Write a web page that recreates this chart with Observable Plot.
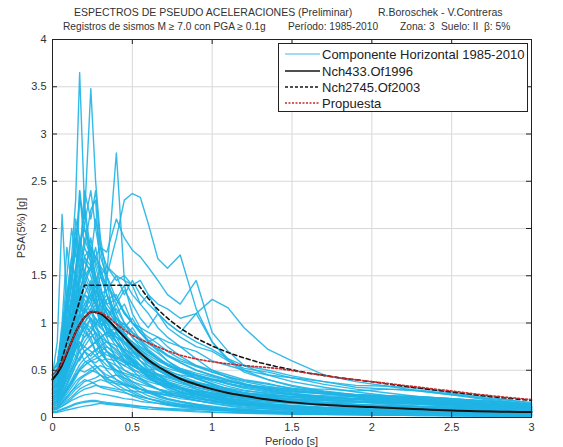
<!DOCTYPE html>
<html>
<head>
<meta charset="utf-8">
<script src="https://cdn.jsdelivr.net/npm/d3@7"></script>
<script src="https://cdn.jsdelivr.net/npm/@observablehq/plot@0.6"></script>
<style>
  html, body { margin: 0; padding: 0; background: #fff; }
  #chart { width: 563px; height: 447px; }
</style>
</head>
<body>
<div id="chart"></div>
<script>
// ---------- Text ----------
const titleLine1a = "ESPECTROS DE PSEUDO ACELERACIONES (Preliminar)";
const titleLine1b = "R.Boroschek - V.Contreras";
const titleLine2 = ["Registros de sismos M \u2265 7.0 con PGA \u2265 0.1g", "Período: 1985-2010", "Zona: 3", "Suelo: II", "\u03B2: 5%"];
const xLabel = "Período [s]";
const yLabel = "PSA(5%) [g]";
const legendLabels = ["Componente Horizontal 1985-2010", "Nch433.Of1996", "Nch2745.Of2003", "Propuesta"];

// ---------- Ticks ----------
const xTicks = [0, 0.5, 1, 1.5, 2, 2.5, 3];
const yTicks = [0, 0.5, 1, 1.5, 2, 2.5, 3, 3.5, 4];

// ---------- Record spectra (periods shared) ----------
const periods = [0, 0.03, 0.06, 0.09, 0.12, 0.145, 0.17, 0.2, 0.24, 0.27, 0.3, 0.34, 0.4, 0.45, 0.5, 0.55, 0.6, 0.66, 0.72, 0.8, 0.9, 1.0, 1.1, 1.2, 1.35, 1.5, 1.7, 1.9, 2.1, 2.3, 2.5, 2.75, 3.0];

const r01 = [0.50,0.58,0.85,1.25,1.70,2.30,3.65,2.25,1.75,1.45,1.15,0.95,0.80,0.68,0.58,0.50,0.43,0.37,0.32,0.27,0.22,0.18,0.15,0.13,0.11,0.09,0.08,0.07,0.06,0.05,0.045,0.04,0.035];
const r02 = [0.45,0.52,0.80,1.10,1.45,1.85,2.30,2.10,3.48,2.50,1.90,1.50,1.10,0.90,0.72,0.60,0.50,0.42,0.36,0.30,0.25,0.21,0.18,0.15,0.12,0.10,0.08,0.07,0.06,0.05,0.05,0.04,0.035];
const r03 = [0.30,0.35,0.50,0.70,0.90,1.10,1.30,1.55,1.80,1.70,1.60,1.50,2.80,1.45,1.30,1.20,1.10,0.95,0.85,0.75,0.62,0.50,0.42,0.36,0.29,0.24,0.20,0.17,0.14,0.12,0.11,0.09,0.08];
const r04 = [0.25,0.30,0.45,0.60,0.80,0.95,1.10,1.20,1.30,1.20,1.00,1.50,1.90,2.30,2.37,2.33,2.05,1.68,1.58,1.72,1.15,0.80,0.62,0.50,0.40,0.33,0.27,0.22,0.19,0.16,0.14,0.12,0.10];
const r05 = [0.20,0.25,0.35,0.50,0.65,0.80,0.90,1.00,1.10,1.20,1.30,1.35,1.50,1.45,1.40,1.45,1.30,1.20,1.15,1.05,1.10,1.25,1.16,0.95,0.72,0.60,0.45,0.38,0.33,0.28,0.24,0.20,0.16];
const r06 = [0.45,0.80,2.15,1.20,1.60,1.50,1.30,1.20,1.00,0.90,0.75,0.60,0.45,0.38,0.32,0.27,0.23,0.20,0.17,0.14,0.12,0.10,0.08,0.07,0.06,0.05,0.04,0.035,0.03,0.025,0.02,0.02,0.02];
const r07 = [0.40,0.50,0.90,1.50,2.00,1.70,2.40,2.00,1.80,1.50,1.30,1.00,0.80,0.65,0.55,0.50,0.42,0.36,0.30,0.25,0.20,0.17,0.14,0.12,0.10,0.08,0.07,0.06,0.05,0.045,0.04,0.035,0.03];
const r08 = [0.35,0.45,0.70,1.10,1.40,1.90,1.60,2.40,2.10,2.40,1.80,1.40,1.00,0.85,0.70,0.60,0.52,0.45,0.38,0.30,0.25,0.20,0.17,0.15,0.12,0.10,0.08,0.07,0.06,0.05,0.045,0.04,0.035];
const r09 = [0.50,0.55,1.00,1.80,1.40,2.10,1.90,1.50,1.60,1.30,1.00,0.85,0.60,0.50,0.45,0.40,0.35,0.30,0.25,0.22,0.18,0.15,0.13,0.11,0.09,0.08,0.06,0.05,0.045,0.04,0.035,0.03,0.03];
const r10 = [0.30,0.35,0.50,0.70,0.90,1.20,1.50,1.90,1.70,2.10,1.80,1.60,1.45,1.50,1.40,1.20,1.30,1.10,0.95,0.85,0.75,0.70,0.60,0.52,0.48,0.42,0.35,0.30,0.26,0.22,0.20,0.17,0.14];
const r11 = [0.25,0.28,0.40,0.55,0.70,0.85,1.00,1.15,1.25,1.20,1.10,1.25,1.30,1.10,1.00,0.95,0.90,0.85,0.80,0.75,0.70,0.60,0.55,0.50,0.45,0.42,0.38,0.34,0.33,0.31,0.26,0.21,0.15];
const r12 = [0.20,0.22,0.30,0.40,0.50,0.60,0.75,0.85,0.90,1.00,0.95,1.05,1.20,1.35,1.20,1.05,0.95,1.10,1.00,0.90,0.80,0.72,0.62,0.55,0.50,0.44,0.38,0.32,0.30,0.29,0.25,0.19,0.14];
const r13 = [0.38,0.42,0.70,1.00,1.30,1.60,1.90,1.70,1.50,1.30,1.10,0.90,0.75,0.60,0.50,0.42,0.36,0.30,0.26,0.22,0.18,0.15,0.12,0.10,0.09,0.07,0.06,0.05,0.04,0.035,0.03,0.025,0.02];
const r14 = [0.30,0.33,0.55,0.80,1.10,1.00,1.40,1.70,1.60,1.80,1.50,1.30,1.00,0.85,0.75,0.70,0.60,0.50,0.45,0.38,0.30,0.25,0.20,0.17,0.14,0.12,0.10,0.08,0.07,0.06,0.05,0.045,0.04];
const r15 = [0.22,0.25,0.40,0.60,0.80,1.00,1.20,1.10,1.40,1.30,1.50,1.40,1.20,1.00,0.90,0.80,0.70,0.62,0.55,0.50,0.42,0.35,0.30,0.26,0.22,0.18,0.15,0.13,0.11,0.10,0.09,0.08,0.07];
const r16 = [0.45,0.50,0.80,1.20,1.00,1.50,1.30,1.10,1.20,1.00,0.85,0.70,0.55,0.45,0.38,0.33,0.28,0.24,0.20,0.17,0.14,0.11,0.09,0.08,0.06,0.05,0.04,0.035,0.03,0.025,0.02,0.02,0.015];
const r17 = [0.15,0.17,0.25,0.35,0.50,0.60,0.70,0.80,0.90,1.00,1.05,1.15,1.00,0.95,1.05,0.90,0.80,0.85,0.75,0.65,0.55,0.50,0.45,0.40,0.36,0.30,0.26,0.22,0.20,0.18,0.16,0.13,0.11];
const r18 = [0.33,0.36,0.60,0.90,1.20,1.45,1.30,1.55,1.40,1.20,1.00,0.95,0.80,0.70,0.60,0.50,0.42,0.36,0.32,0.27,0.22,0.18,0.15,0.13,0.11,0.09,0.07,0.06,0.05,0.045,0.04,0.035,0.03];
const r19 = [0.28,0.30,0.45,0.65,0.90,1.10,1.30,1.25,1.10,1.15,1.00,0.85,0.90,0.80,0.70,0.65,0.58,0.50,0.44,0.38,0.32,0.28,0.24,0.21,0.18,0.15,0.13,0.11,0.10,0.09,0.08,0.07,0.06];
const r20 = [0.50,0.55,0.90,1.30,1.70,1.40,1.80,2.20,1.60,1.40,1.20,1.30,1.00,0.80,0.65,0.55,0.45,0.40,0.35,0.30,0.25,0.20,0.17,0.15,0.12,0.10,0.08,0.07,0.06,0.05,0.045,0.04,0.035];
const r21 = [0.20,0.22,0.35,0.50,0.65,0.80,0.75,0.90,0.85,0.70,0.75,0.60,0.50,0.42,0.36,0.30,0.27,0.23,0.20,0.17,0.14,0.12,0.10,0.09,0.07,0.06,0.05,0.045,0.04,0.035,0.03,0.025,0.02];
const r22 = [0.12,0.13,0.20,0.28,0.35,0.42,0.50,0.55,0.60,0.58,0.62,0.55,0.50,0.45,0.42,0.38,0.34,0.30,0.27,0.24,0.20,0.18,0.16,0.14,0.12,0.10,0.09,0.08,0.07,0.06,0.055,0.05,0.045];
const r23 = [0.25,0.28,0.45,0.60,0.70,0.65,0.80,0.70,0.60,0.55,0.50,0.42,0.35,0.30,0.26,0.22,0.20,0.17,0.15,0.13,0.11,0.09,0.08,0.07,0.06,0.05,0.04,0.035,0.03,0.025,0.02,0.02,0.015];
const r24 = [0.10,0.11,0.15,0.20,0.25,0.30,0.33,0.38,0.40,0.42,0.45,0.40,0.38,0.35,0.33,0.30,0.28,0.26,0.24,0.22,0.20,0.18,0.16,0.15,0.13,0.12,0.10,0.09,0.08,0.075,0.07,0.06,0.055];
const r25 = [0.35,0.38,0.60,0.85,1.00,0.90,1.10,0.95,0.80,0.70,0.60,0.50,0.40,0.34,0.28,0.24,0.20,0.17,0.14,0.12,0.10,0.08,0.07,0.06,0.05,0.04,0.035,0.03,0.025,0.02,0.02,0.015,0.015];
const r26 = [0.18,0.20,0.30,0.42,0.55,0.65,0.60,0.70,0.75,0.80,0.70,0.75,0.68,0.60,0.55,0.50,0.46,0.42,0.38,0.34,0.30,0.26,0.23,0.20,0.18,0.16,0.14,0.12,0.11,0.10,0.09,0.08,0.07];
const r27 = [0.08,0.09,0.12,0.15,0.18,0.20,0.22,0.24,0.25,0.26,0.25,0.24,0.22,0.20,0.19,0.17,0.16,0.15,0.14,0.12,0.11,0.10,0.09,0.08,0.07,0.06,0.055,0.05,0.045,0.04,0.035,0.03,0.03];
const r28 = [0.30,0.32,0.50,0.70,0.60,0.80,0.70,0.60,0.55,0.50,0.45,0.38,0.32,0.27,0.23,0.20,0.17,0.15,0.13,0.11,0.09,0.08,0.07,0.06,0.05,0.04,0.035,0.03,0.025,0.02,0.02,0.015,0.015];
const r29 = [0.14,0.15,0.22,0.30,0.38,0.45,0.50,0.48,0.52,0.55,0.50,0.45,0.40,0.36,0.32,0.30,0.27,0.25,0.23,0.20,0.18,0.16,0.15,0.14,0.12,0.11,0.10,0.09,0.08,0.07,0.065,0.06,0.05];
const r30 = [0.40,0.45,0.75,1.00,1.25,1.10,1.00,0.90,1.05,0.85,0.70,0.60,0.48,0.40,0.34,0.30,0.26,0.22,0.19,0.16,0.13,0.11,0.09,0.08,0.07,0.06,0.05,0.04,0.035,0.03,0.025,0.02,0.02];
const r31 = [0.06,0.07,0.09,0.11,0.13,0.15,0.16,0.17,0.18,0.18,0.17,0.16,0.15,0.14,0.13,0.12,0.11,0.10,0.09,0.08,0.07,0.06,0.055,0.05,0.045,0.04,0.035,0.03,0.028,0.025,0.022,0.02,0.018];
const r32 = [0.22,0.24,0.36,0.50,0.62,0.72,0.85,0.95,1.05,0.95,0.90,0.80,0.72,0.65,0.58,0.52,0.46,0.40,0.35,0.30,0.25,0.21,0.18,0.16,0.14,0.12,0.10,0.09,0.08,0.07,0.06,0.05,0.045];
const r33 = [0.16,0.18,0.28,0.40,0.52,0.60,0.70,0.75,0.70,0.65,0.60,0.62,0.60,0.55,0.50,0.48,0.44,0.40,0.36,0.32,0.28,0.25,0.22,0.20,0.17,0.15,0.13,0.12,0.11,0.10,0.09,0.08,0.07];
const r34 = [0.10,0.11,0.16,0.22,0.28,0.32,0.36,0.40,0.38,0.35,0.32,0.30,0.28,0.26,0.24,0.22,0.20,0.18,0.16,0.14,0.12,0.10,0.09,0.08,0.07,0.06,0.05,0.045,0.04,0.035,0.03,0.028,0.025];
const r35 = [0.15,0.16,0.22,0.30,0.38,0.45,0.50,0.55,0.60,0.62,0.65,0.70,0.60,0.55,0.60,0.55,0.50,0.52,0.48,0.45,0.42,0.40,0.38,0.35,0.32,0.30,0.30,0.28,0.30,0.28,0.24,0.18,0.13];
const r36 = [0.30,0.33,0.55,0.80,1.05,1.30,1.15,1.40,1.25,1.10,1.20,1.00,0.85,0.70,0.60,0.52,0.45,0.40,0.35,0.30,0.26,0.22,0.19,0.16,0.14,0.12,0.10,0.09,0.08,0.07,0.06,0.05,0.045];
const r37 = [0.42,0.46,0.80,1.20,1.60,2.00,1.70,1.50,1.90,1.60,1.40,1.10,0.90,0.75,0.62,0.55,0.48,0.42,0.36,0.30,0.24,0.20,0.17,0.15,0.12,0.10,0.08,0.07,0.06,0.05,0.045,0.04,0.035];
const r38 = [0.20,0.23,0.35,0.50,0.70,0.90,1.10,1.30,1.20,1.40,1.60,1.30,1.10,1.20,1.00,0.90,0.80,0.72,0.65,0.58,0.50,0.45,0.40,0.35,0.30,0.26,0.22,0.20,0.18,0.16,0.14,0.12,0.10];
const r39 = [0.25,0.27,0.40,0.55,0.70,0.85,0.95,1.00,0.95,0.90,0.85,0.90,0.95,1.00,0.85,0.75,0.70,0.62,0.55,0.50,0.45,0.40,0.36,0.32,0.28,0.25,0.22,0.20,0.18,0.16,0.15,0.13,0.11];
const r40 = [0.12,0.13,0.18,0.25,0.32,0.38,0.42,0.45,0.50,0.48,0.45,0.42,0.45,0.42,0.38,0.35,0.33,0.30,0.28,0.26,0.24,0.22,0.20,0.18,0.16,0.15,0.14,0.13,0.12,0.11,0.10,0.09,0.08];
const r41 = [0.50,0.55,0.90,1.30,1.00,1.20,2.40,1.80,2.20,2.30,1.50,1.30,1.05,0.90,0.75,0.65,0.55,0.45,0.38,0.32,0.26,0.22,0.18,0.15,0.13,0.11,0.09,0.08,0.07,0.06,0.05,0.045,0.04];
const r42 = [0.38,0.42,0.65,0.95,1.25,1.55,1.80,2.05,2.40,2.00,1.70,1.50,1.25,1.40,1.10,0.95,0.80,0.70,0.60,0.50,0.42,0.36,0.30,0.26,0.22,0.18,0.15,0.13,0.11,0.10,0.09,0.08,0.07];
const r43 = [0.28,0.30,0.45,0.65,0.85,1.05,1.25,1.45,1.60,1.70,1.80,1.75,2.10,1.90,1.77,1.70,1.59,1.45,1.30,1.20,1.45,0.90,0.70,0.55,0.45,0.38,0.32,0.27,0.23,0.20,0.18,0.15,0.12];
const r44 = [0.32,0.35,0.55,0.80,1.00,1.25,1.45,1.70,1.80,1.65,1.50,1.60,1.50,1.30,1.45,1.30,1.20,1.10,1.00,0.90,1.10,0.80,0.60,0.48,0.40,0.34,0.28,0.24,0.21,0.19,0.17,0.14,0.12];
const r45 = [0.05,0.055,0.065,0.08,0.09,0.10,0.11,0.12,0.13,0.14,0.15,0.14,0.13,0.12,0.11,0.10,0.09,0.085,0.08,0.07,0.06,0.055,0.05,0.045,0.04,0.035,0.03,0.028,0.025,0.022,0.02,0.018,0.016];
const r46 = [0.22,0.25,0.38,0.55,0.72,0.90,0.85,1.00,0.90,0.80,0.85,0.75,0.65,0.58,0.52,0.46,0.42,0.38,0.34,0.30,0.27,0.24,0.22,0.20,0.18,0.16,0.14,0.13,0.12,0.11,0.10,0.09,0.08];
const r47 = [0.18,0.20,0.30,0.45,0.60,0.72,0.80,0.75,0.85,0.90,0.80,0.70,0.62,0.66,0.60,0.55,0.48,0.44,0.40,0.36,0.32,0.28,0.26,0.24,0.22,0.20,0.18,0.17,0.16,0.15,0.14,0.12,0.10];
const r48 = [0.36,0.40,0.62,0.90,1.15,1.35,1.20,1.05,1.15,0.95,0.85,0.80,0.70,0.62,0.55,0.50,0.44,0.38,0.33,0.28,0.24,0.20,0.18,0.16,0.14,0.12,0.11,0.10,0.09,0.08,0.07,0.06,0.05];
const r49 = [0.14,0.15,0.24,0.34,0.45,0.55,0.62,0.70,0.65,0.72,0.68,0.60,0.55,0.50,0.46,0.44,0.40,0.37,0.34,0.31,0.28,0.26,0.24,0.22,0.20,0.19,0.18,0.17,0.16,0.15,0.13,0.11,0.09];
const r50 = [0.26,0.29,0.48,0.70,0.95,1.15,1.35,1.50,1.35,1.20,1.05,0.95,0.88,0.80,0.72,0.65,0.58,0.52,0.46,0.40,0.35,0.30,0.26,0.23,0.20,0.17,0.15,0.13,0.12,0.11,0.10,0.08,0.07];
const r51 = [0.30,0.33,0.50,0.70,0.90,1.05,1.20,1.30,1.25,1.35,1.20,1.10,1.15,1.00,0.90,0.82,0.75,0.68,0.60,0.52,0.45,0.40,0.35,0.31,0.27,0.24,0.21,0.19,0.17,0.15,0.14,0.12,0.10];
const r52 = [0.24,0.26,0.40,0.58,0.75,0.92,1.05,1.15,1.05,0.98,1.08,0.95,0.85,0.78,0.70,0.64,0.58,0.52,0.47,0.42,0.37,0.33,0.29,0.26,0.23,0.21,0.19,0.17,0.16,0.15,0.13,0.11,0.09];
const r53 = [0.18,0.20,0.32,0.46,0.60,0.75,0.90,0.85,0.95,1.05,0.95,0.88,0.80,0.72,0.66,0.60,0.55,0.50,0.45,0.40,0.36,0.32,0.29,0.26,0.24,0.22,0.20,0.19,0.18,0.17,0.15,0.12,0.10];
const r54 = [0.40,0.44,0.70,1.00,1.20,1.40,1.60,1.45,1.30,1.20,1.05,0.92,0.80,0.70,0.62,0.55,0.48,0.42,0.37,0.32,0.27,0.23,0.20,0.18,0.15,0.13,0.11,0.10,0.09,0.08,0.07,0.06,0.05];
const r55 = [0.12,0.13,0.20,0.28,0.36,0.44,0.52,0.58,0.62,0.66,0.70,0.66,0.62,0.58,0.55,0.52,0.48,0.45,0.42,0.38,0.34,0.31,0.28,0.26,0.24,0.22,0.21,0.20,0.19,0.18,0.16,0.14,0.12];
const r56 = [0.09,0.10,0.14,0.18,0.22,0.26,0.30,0.33,0.36,0.38,0.40,0.38,0.36,0.34,0.32,0.30,0.28,0.27,0.26,0.25,0.24,0.23,0.22,0.21,0.20,0.19,0.18,0.17,0.16,0.15,0.13,0.11,0.09];
const r57 = [0.32,0.35,0.55,0.80,1.05,1.25,1.10,1.30,1.45,1.25,1.10,1.00,0.92,0.85,0.95,0.82,0.72,0.64,0.56,0.50,0.44,0.38,0.33,0.29,0.25,0.22,0.19,0.17,0.15,0.14,0.12,0.10,0.08];
const r58 = [0.16,0.18,0.26,0.36,0.46,0.56,0.64,0.70,0.76,0.80,0.84,0.90,0.85,0.80,0.76,0.72,0.66,0.60,0.55,0.50,0.45,0.41,0.38,0.35,0.31,0.28,0.25,0.23,0.22,0.21,0.19,0.16,0.13];
const r59 = [0.44,0.50,0.85,1.20,1.50,1.75,1.55,1.80,1.65,1.45,1.30,1.15,1.00,0.88,0.78,0.70,0.62,0.55,0.48,0.42,0.36,0.31,0.27,0.24,0.20,0.17,0.15,0.13,0.12,0.11,0.10,0.08,0.07];
const r60 = [0.26,0.28,0.42,0.60,0.78,0.95,1.10,1.00,1.15,1.25,1.35,1.20,1.25,1.10,1.00,0.92,0.85,0.78,0.70,0.62,0.55,0.48,0.43,0.38,0.33,0.29,0.25,0.22,0.20,0.18,0.16,0.14,0.11];
const r61 = [0.20,0.22,0.34,0.48,0.62,0.74,0.86,0.96,0.90,0.82,0.76,0.70,0.64,0.60,0.56,0.52,0.49,0.46,0.43,0.40,0.37,0.34,0.31,0.28,0.26,0.24,0.23,0.22,0.21,0.20,0.18,0.15,0.12];
const r62 = [0.10,0.11,0.16,0.22,0.28,0.34,0.40,0.44,0.48,0.52,0.55,0.52,0.50,0.47,0.44,0.41,0.38,0.35,0.33,0.30,0.28,0.26,0.25,0.24,0.23,0.22,0.21,0.20,0.19,0.18,0.16,0.13,0.11];
const r63 = [0.36,0.40,0.65,0.95,1.25,1.55,1.85,2.00,1.70,1.50,1.35,1.20,1.05,0.95,0.85,0.78,0.70,0.62,0.55,0.48,0.41,0.35,0.30,0.26,0.22,0.19,0.16,0.14,0.12,0.11,0.10,0.08,0.07];
const r64 = [0.14,0.15,0.22,0.31,0.40,0.48,0.56,0.62,0.68,0.72,0.76,0.80,0.76,0.72,0.68,0.64,0.60,0.56,0.52,0.48,0.44,0.40,0.36,0.33,0.30,0.27,0.25,0.24,0.23,0.22,0.20,0.17,0.14];
const r65 = [0.28,0.30,0.48,0.68,0.88,1.05,0.95,1.15,1.30,1.40,1.25,1.15,1.05,0.98,0.90,0.84,0.78,0.72,0.66,0.60,0.54,0.48,0.43,0.39,0.35,0.31,0.27,0.24,0.22,0.20,0.18,0.15,0.12];
const r66 = [0.08,0.09,0.12,0.16,0.20,0.24,0.27,0.30,0.32,0.34,0.33,0.32,0.30,0.29,0.28,0.27,0.26,0.25,0.24,0.23,0.22,0.21,0.20,0.19,0.18,0.17,0.16,0.16,0.15,0.14,0.12,0.10,0.08];
const r67 = [0.34,0.37,0.60,0.88,1.10,1.30,1.50,1.65,1.55,1.70,1.55,1.40,1.25,1.12,1.00,0.90,0.82,0.74,0.66,0.58,0.50,0.44,0.39,0.34,0.29,0.25,0.21,0.19,0.17,0.15,0.13,0.11,0.09];
const r68 = [0.22,0.24,0.36,0.52,0.68,0.82,0.95,1.05,1.12,1.05,0.98,1.02,0.94,0.86,0.80,0.74,0.68,0.62,0.57,0.52,0.47,0.43,0.39,0.35,0.31,0.28,0.26,0.24,0.23,0.22,0.20,0.17,0.14];
const r69 = [0.06,0.065,0.08,0.10,0.12,0.14,0.15,0.16,0.17,0.17,0.16,0.15,0.14,0.13,0.12,0.115,0.11,0.10,0.095,0.09,0.085,0.08,0.075,0.07,0.065,0.06,0.055,0.05,0.05,0.045,0.04,0.035,0.03];
const r70 = [0.42,0.46,0.75,1.10,1.40,1.25,1.55,1.40,1.60,1.40,1.25,1.10,0.98,0.88,0.80,0.72,0.64,0.57,0.50,0.44,0.38,0.33,0.28,0.25,0.21,0.18,0.16,0.14,0.13,0.12,0.11,0.09,0.08];

const records = [r01,r02,r03,r04,r05,r06,r07,r08,r09,r10,r11,r12,r13,r14,r15,r16,r17,r18,r19,r20,
  r21,r22,r23,r24,r25,r26,r27,r28,r29,r30,r31,r32,r33,r34,r35,r36,r37,r38,r39,r40,
  r41,r42,r43,r44,r45,r46,r47,r48,r49,r50,r51,r52,r53,r54,r55,r56,r57,r58,r59,r60,
  r61,r62,r63,r64,r65,r66,r67,r68,r69,r70];

// ---------- Design spectra ----------
const nch433T = [0, 0.05, 0.1, 0.15, 0.2, 0.25, 0.3, 0.35, 0.4, 0.45, 0.5, 0.55, 0.6, 0.65, 0.7, 0.8, 0.9, 1.0, 1.1, 1.2, 1.35, 1.5, 1.75, 2.0, 2.5, 3.0];
const nch433V = [0.40, 0.52, 0.72, 0.92, 1.06, 1.12, 1.10, 1.03, 0.94, 0.85, 0.76, 0.68, 0.61, 0.55, 0.50, 0.41, 0.35, 0.30, 0.26, 0.23, 0.19, 0.16, 0.13, 0.11, 0.075, 0.057];

const nch2745T = [0, 0.03, 0.2, 0.54, 0.6, 0.65, 0.7, 0.75, 0.8, 0.9, 1.0, 1.1, 1.2, 1.3, 1.4, 1.6, 1.8, 2.0, 2.25, 2.5, 2.75, 3.0];
const nch2745V = [0.41, 0.46, 1.40, 1.40, 1.26, 1.16, 1.08, 1.01, 0.945, 0.84, 0.756, 0.687, 0.63, 0.58, 0.54, 0.47, 0.42, 0.378, 0.32, 0.27, 0.22, 0.18];

const propT = [0, 0.05, 0.1, 0.15, 0.2, 0.25, 0.3, 0.35, 0.4, 0.5, 0.6, 0.7, 0.8, 0.9, 1.0, 1.2, 1.4, 1.6, 1.8, 2.0, 2.25, 2.5, 2.75, 3.0];
const propV = [0.45, 0.55, 0.73, 0.92, 1.06, 1.12, 1.11, 1.06, 0.99, 0.87, 0.79, 0.72, 0.66, 0.62, 0.59, 0.55, 0.52, 0.47, 0.42, 0.38, 0.33, 0.28, 0.23, 0.19];

// ---------- Build tables ----------
const recordRows = records.flatMap((vals, i) => vals.map((v, j) => ({id: i, T: periods[j], v})));
const toRows = (T, V) => T.map((t, i) => ({T: t, v: V[i]}));
const rows433 = toRows(nch433T, nch433V);
const rows2745 = toRows(nch2745T, nch2745V);
const rowsProp = toRows(propT, propV);

const W = 563, H = 447;
const mT = 39, mB = 30, mL = 52, mR = 32;
const plotW = W - mL - mR, plotH = H - mT - mB;

const cyan = "#1fb4e6";
const textColor = "#333";

const chart = Plot.plot({
  width: W, height: H,
  marginTop: mT, marginBottom: mB, marginLeft: mL, marginRight: mR,
  style: {fontFamily: "'Liberation Sans', Arial, sans-serif", fontSize: "11px", color: textColor, background: "#fff"},
  x: {domain: [0, 3], label: null},
  y: {domain: [0, 4], label: null},
  marks: [
    Plot.gridX(xTicks, {stroke: "#d8d8d8", strokeOpacity: 1}),
    Plot.gridY(yTicks, {stroke: "#d8d8d8", strokeOpacity: 1}),
    Plot.line(recordRows, {x: "T", y: "v", z: "id", stroke: cyan, strokeWidth: 1.4, strokeOpacity: 0.9}),
    Plot.line(rows433, {x: "T", y: "v", stroke: "#151515", strokeWidth: 2, curve: "monotone-x"}),
    Plot.line(rows2745, {x: "T", y: "v", stroke: "#151515", strokeWidth: 1.6, strokeDasharray: "4,3"}),
    Plot.line(rowsProp, {x: "T", y: "v", stroke: "#c62a2a", strokeWidth: 1.6, strokeDasharray: "2,2", curve: "monotone-x"}),
    Plot.tickX(xTicks, {x: d => d, insetTop: plotH - 5, stroke: "#222"}),
    Plot.tickX(xTicks, {x: d => d, insetBottom: plotH - 5, stroke: "#222"}),
    Plot.tickY(yTicks, {y: d => d, insetRight: plotW - 5, stroke: "#222"}),
    Plot.tickY(yTicks, {y: d => d, insetLeft: plotW - 5, stroke: "#222"}),
    Plot.frame({stroke: "#222"}),
    Plot.axisX(xTicks, {tickSize: 0, tickPadding: 6, tickFormat: d => String(d), label: null, fill: textColor}),
    Plot.axisY(yTicks, {tickSize: 0, tickPadding: 6, tickFormat: d => String(d), label: null, fill: textColor})
  ]
});
document.getElementById("chart").appendChild(chart);

// ---------- Annotations: titles, axis labels, legend ----------
const svg = d3.select(chart);
const ff = "'Liberation Sans', Arial, sans-serif";
const addText = (x, y, t, size, anchor, fill) =>
  svg.append("text").attr("x", x).attr("y", y).attr("text-anchor", anchor).attr("font-family", ff)
    .attr("font-size", size).attr("fill", fill).text(t);

addText(74, 16, titleLine1a, 10.5, "start", textColor);
addText(378, 16, titleLine1b, 10.5, "start", textColor);
const line2X = [63, 288, 400, 441, 484];
titleLine2.forEach((t, i) => addText(line2X[i], 29.5, t, 10.2, "start", textColor));

addText(mL + plotW / 2, 445, xLabel, 11, "middle", textColor);
svg.append("text").attr("transform", `translate(25,${mT + plotH / 2}) rotate(-90)`).attr("text-anchor", "middle")
  .attr("font-family", ff).attr("font-size", 11).attr("fill", textColor).text(yLabel);

const lg = svg.append("g");
lg.append("rect").attr("x", 278.5).attr("y", 43.5).attr("width", 249).attr("height", 68)
  .attr("fill", "#fff").attr("stroke", "#222").attr("stroke-width", 1);
const legendStyles = [
  {stroke: "#7fd0ea", dash: null, w: 1.5},
  {stroke: "#151515", dash: null, w: 1.6},
  {stroke: "#151515", dash: "3,2", w: 1.4},
  {stroke: "#c62a2a", dash: "2,1.5", w: 1.4}
];
const legendY = [54, 71, 87, 103];
legendLabels.forEach((lab, i) => {
  const s = legendStyles[i];
  const ln = lg.append("line").attr("x1", 285).attr("x2", 320).attr("y1", legendY[i]).attr("y2", legendY[i])
    .attr("stroke", s.stroke).attr("stroke-width", s.w);
  if (s.dash) ln.attr("stroke-dasharray", s.dash);
  lg.append("text").attr("x", 322).attr("y", legendY[i] + 4.5).attr("text-anchor", "start").attr("font-family", ff)
    .attr("font-size", 13).attr("fill", "#222").text(lab);
});
</script>
</body>
</html>
